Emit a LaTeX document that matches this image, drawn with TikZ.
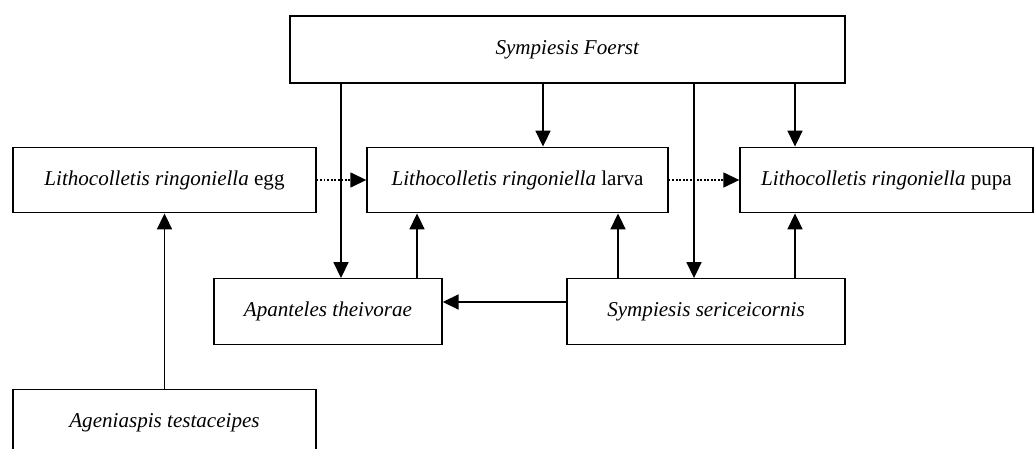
\documentclass[tikz,border=0pt]{standalone}
\usepackage{fontspec}
\setmainfont{Liberation Serif}
\usepackage{tikz}
\usetikzlibrary{positioning,arrows.meta,calc}
\tikzset{
  stage-node/.style={draw=black, line width=0.8pt, minimum height=1.31cm,
    font=\fontsize{12}{14}\selectfont, align=center, inner sep=2pt},
  flow-arrow/.style={-{Triangle[length=9pt, width=8.5pt]}, line width=0.8pt, draw=black},
  dotted-arrow/.style={-{Triangle[length=9pt, width=8.5pt]}, line width=0.6pt, draw=black,
    dash pattern=on 1pt off 1pt}
}
\begin{document}
\begin{tikzpicture}
\useasboundingbox (0,0) rectangle (20.7,-8.98);
\clip (0,0) rectangle (20.7,-8.98);
% parasitoid on top
\node[stage-node, minimum width=11.1cm, minimum height=1.34cm] (foerst) at (11.35,-0.99) {\textit{Sympiesis Foerst}};
% host stages
\node[stage-node, minimum width=6.06cm] (egg)   at (3.29,-3.6)   {\textit{Lithocolletis ringoniella} egg};
\node[stage-node, minimum width=6.02cm] (larva) at (10.35,-3.6)  {\textit{Lithocolletis ringoniella} larva};
\node[stage-node, minimum width=5.86cm] (pupa)  at (17.73,-3.6)  {\textit{Lithocolletis ringoniella} pupa};
% parasitoids below
\node[stage-node, minimum width=4.56cm] (apan)  at (6.56,-6.23)  {\textit{Apanteles theivorae}};
\node[stage-node, minimum width=5.56cm] (seric) at (14.12,-6.23) {\textit{Sympiesis sericeicornis}};
\node[stage-node, minimum width=6.06cm, minimum height=1.34cm] (agen) at (3.29,-8.46) {\textit{Ageniaspis testaceipes}};
% attachment points
\coordinate (a1) at ([xshift=0.26cm]apan.north);
\coordinate (a2) at ([xshift=0.51cm]larva.north);
\coordinate (a3) at ([xshift=-0.24cm]seric.north);
\coordinate (a4) at ([xshift=-1.83cm]pupa.north);
\coordinate (b1) at ([xshift=1.78cm]apan.north);
\coordinate (b2) at ([xshift=-1.76cm]seric.north);
\coordinate (b3) at ([xshift=1.78cm]seric.north);
\coordinate (c1) at ([yshift=0.19cm]seric.west);
% Foerst attacks
\draw[flow-arrow] (foerst.south -| a1) -- (a1);
\draw[flow-arrow] (foerst.south -| a2) -- (a2);
\draw[flow-arrow] (foerst.south -| a3) -- (a3);
\draw[flow-arrow] (foerst.south -| a4) -- (a4);
% parasitoids on hosts
\draw[flow-arrow] (b1) -- (larva.south -| b1);
\draw[flow-arrow] (b2) -- (larva.south -| b2);
\draw[flow-arrow] (b3) -- (pupa.south -| b3);
\draw[flow-arrow] (c1) -- (apan.east |- c1);
\draw[flow-arrow] (agen.north) -- (egg.south);
% development
\draw[dotted-arrow] (egg.east) -- (larva.west);
\draw[dotted-arrow] (larva.east) -- (pupa.west);
\end{tikzpicture}
\end{document}
